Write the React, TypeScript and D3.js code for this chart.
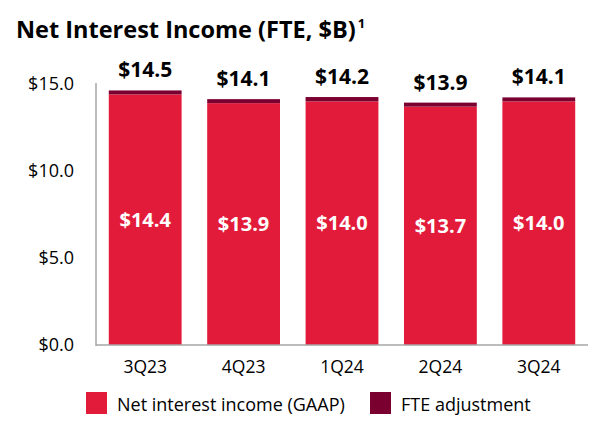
import { useEffect, useRef } from 'react';
import * as d3 from 'd3';

const quarters = ['3Q23', '4Q23', '1Q24', '2Q24', '3Q24'];
const gaapValues = [14.4, 13.9, 14.0, 13.7, 14.0];
const fteValues = [0.23, 0.23, 0.25, 0.23, 0.23];
const totalLabels = ['$14.5', '$14.1', '$14.2', '$13.9', '$14.1'];
const yTicks = [0, 5, 10, 15];
const legendLabels = ['Net interest income (GAAP)', 'FTE adjustment'];

const [width, height] = [601, 437];
const RED = '#e31b3b';
const MAROON = '#7a0030';
const FONT = "'Open Sans', sans-serif";

function App() {
    const node = useRef<SVGSVGElement>(null);
    useEffect(() => {
        if (!node.current) return;
        const svg = d3.select(node.current);
        svg.selectAll('*').remove();

        const x = d3.scaleBand()
            .domain(quarters)
            .range([96, 588])
            .paddingInner(0.26)
            .paddingOuter(0.13);

        const y = d3.scaleLinear().domain([0, 15]).range([345, 84]);

        // title
        const title = svg.append('text')
            .attr('x', 16).attr('y', 38)
            .attr('font-family', FONT).attr('font-weight', 700)
            .attr('font-size', 23.5).attr('fill', '#000');
        title.append('tspan').text('Net Interest Income (FTE, $B)');
        title.append('tspan').attr('font-size', 13).attr('dy', -10).attr('dx', 2).text('1');

        // y axis labels
        svg.append('g').selectAll('text')
            .data(yTicks).enter().append('text')
            .attr('x', 74).attr('y', d => y(d))
            .attr('dy', '0.35em')
            .attr('text-anchor', 'end')
            .attr('font-family', FONT).attr('font-size', 18)
            .attr('fill', '#000')
            .text(d => '$' + d3.format('.1f')(d));

        const rows = quarters.map((q, i) => ({
            q, gaap: gaapValues[i], total: gaapValues[i] + fteValues[i], label: totalLabels[i],
        }));

        // GAAP bars
        svg.append('g').selectAll('rect')
            .data(rows).enter().append('rect')
            .attr('x', d => x(d.q)!)
            .attr('width', x.bandwidth())
            .attr('y', d => y(d.gaap))
            .attr('height', d => y(0) - y(d.gaap))
            .attr('fill', RED);

        // FTE adjustment
        svg.append('g').selectAll('rect')
            .data(rows).enter().append('rect')
            .attr('x', d => x(d.q)!)
            .attr('width', x.bandwidth())
            .attr('y', d => y(d.total))
            .attr('height', d => y(d.gaap) - y(d.total))
            .attr('fill', MAROON);

        // axis lines
        svg.append('line')
            .attr('x1', 96).attr('x2', 96)
            .attr('y1', y(15) - 1).attr('y2', y(0) + 1)
            .attr('stroke', '#a6a6a6').attr('stroke-width', 1.5);
        svg.append('line')
            .attr('x1', 96).attr('x2', 588)
            .attr('y1', y(0)).attr('y2', y(0))
            .attr('stroke', '#a6a6a6').attr('stroke-width', 1.5);

        // inside labels
        svg.append('g').selectAll('text')
            .data(rows).enter().append('text')
            .attr('x', d => x(d.q)! + x.bandwidth() / 2)
            .attr('y', d => (y(d.gaap) + y(0)) / 2)
            .attr('dy', '0.35em')
            .attr('text-anchor', 'middle')
            .attr('font-family', FONT).attr('font-weight', 700).attr('font-size', 20)
            .attr('fill', '#fff')
            .text(d => '$' + d3.format('.1f')(d.gaap));

        // total labels
        svg.append('g').selectAll('text')
            .data(rows).enter().append('text')
            .attr('x', d => x(d.q)! + x.bandwidth() / 2)
            .attr('y', d => y(d.total) - 13)
            .attr('text-anchor', 'middle')
            .attr('font-family', FONT).attr('font-weight', 700).attr('font-size', 21)
            .attr('fill', '#000')
            .text(d => d.label);

        // category labels
        svg.append('g').selectAll('text')
            .data(quarters).enter().append('text')
            .attr('x', d => x(d)! + x.bandwidth() / 2)
            .attr('y', 373)
            .attr('text-anchor', 'middle')
            .attr('font-family', FONT).attr('font-size', 17.5)
            .attr('fill', '#000')
            .text(d => d);

        // legend
        const legendX = [86, 370];
        const legendColors = [RED, MAROON];
        const lg = svg.append('g').selectAll('g')
            .data(legendLabels).enter().append('g')
            .attr('transform', (_, i) => `translate(${legendX[i]},392)`);
        lg.append('rect')
            .attr('width', 21).attr('height', 22)
            .attr('fill', (_, i) => legendColors[i]);
        lg.append('text')
            .attr('x', 31).attr('y', 19)
            .attr('font-family', FONT).attr('font-size', 18)
            .attr('fill', '#000')
            .text(d => d);
    }, [node]);

    return (
        <svg ref={node} width={width} height={height}
            style={{ position: 'absolute', left: 0, top: 0, background: '#fff' }} />
    );
}

export default App;
